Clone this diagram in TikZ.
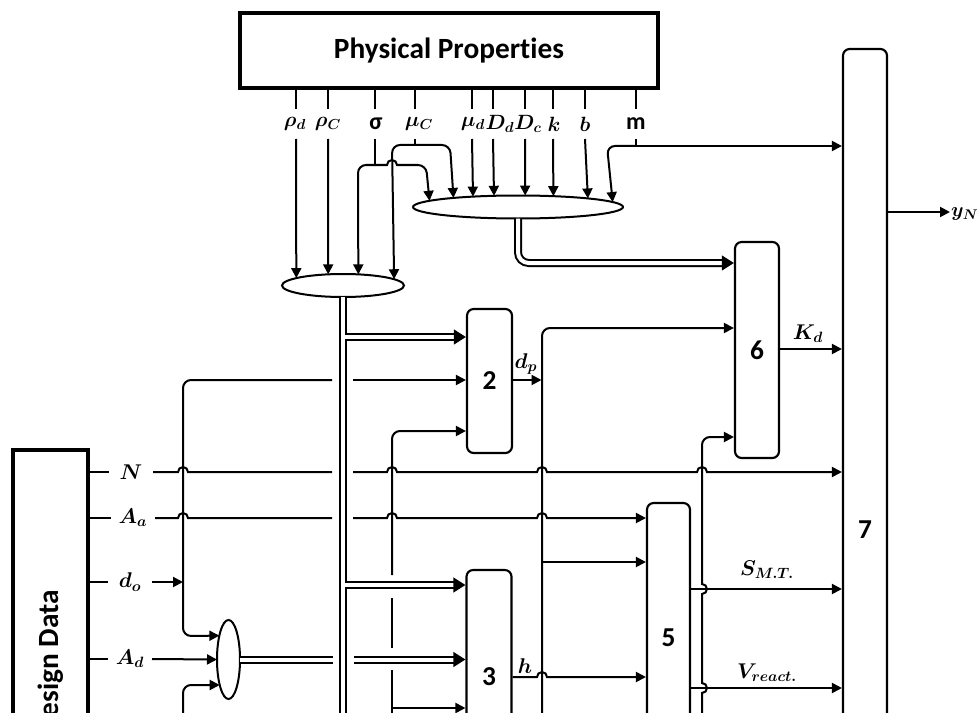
\RequirePackage{fix-cm}
\documentclass[tikz,border=0pt]{standalone}
\usepackage{fontspec}
\usepackage{amsmath}
\usepackage{bm}
\usetikzlibrary{arrows.meta,shapes.geometric}
\newfontfamily\carl[Ligatures={NoCommon}]{Carlito}
\newdimen\pxl \pxl=0.75pt
\begin{document}
\begin{tikzpicture}[x=0.75pt, y=0.75pt, line width=1.5pt,
  >={Triangle[length=7.5pt,width=7.5pt]},
  every node/.style={inner sep=0pt},
  blk/.style={draw, rounded corners=5pt, line width=1.6pt, minimum width=45\pxl, font=\carl\bfseries\fontsize{20.5}{24}\selectfont},
  ell/.style={ellipse, draw, line width=1.5pt, outer sep=0pt},
  dbl/.style={double=white, double distance=3pt, line width=1.5pt},
  dtip/.style={-{Triangle[length=9pt,width=11pt]}},
  lbl/.style={font=\fontsize{16}{19}\selectfont},
  plbl/.style={font=\fontsize{15.5}{18}\selectfont, minimum height=28\pxl},
  slbl/.style={font=\carl\bfseries\fontsize{18}{20}\selectfont, minimum height=28\pxl},
  dlbl/.style={lbl, minimum width=42\pxl},
  bigbox/.style={draw, line width=2.5pt, font=\carl\bfseries\fontsize{22}{26}\selectfont},
  rc/.style={rounded corners=6pt}
]
\useasboundingbox (0,0) rectangle (977,-713);
\clip (0,0) rectangle (977,-713);

% main boxes
\node[bigbox, minimum width=418\pxl, minimum height=75\pxl] (PP) at (449,-50.5) {Physical Properties};
\node[bigbox, minimum width=75\pxl, minimum height=426\pxl] (DD) at (50.5,-663) {\rotatebox{90}{Design Data}};

% blocks
\node[blk, minimum height=144\pxl] (B2) at (489.5,-381) {2};
\node[blk, minimum height=214\pxl] (B3) at (489,-677) {3};
\node[blk, minimum width=43\pxl, minimum height=270\pxl] (B5) at (668.5,-638) {5};
\node[blk, minimum width=44\pxl, minimum height=216\pxl] (B6) at (757,-350) {6};
\node[blk, minimum width=44\pxl, minimum height=962\pxl] (B7) at (865,-530) {7};

% ellipses
\node[ell, minimum width=210\pxl, minimum height=23\pxl] (A) at (518,-207) {};
\node[ell, minimum width=122\pxl, minimum height=23\pxl] (B) at (343,-285.5) {};
\node[ell, minimum width=23\pxl, minimum height=79\pxl] (C) at (228.5,-659.5) {};

% property labels
\node[plbl] (rd) at (295,-124) {$\bm{\rho_d}$};
\node[plbl] (rC) at (328,-124) {$\bm{\rho_C}$};
\node[slbl] (sg) at (376,-124) {σ};
\node[plbl] (mc) at (419,-124) {$\bm{\mu_C}$};
\node[plbl] (md) at (473,-124) {$\bm{\mu_d}$};
\node[plbl] (Dd) at (500,-124) {$\bm{D_d}$};
\node[plbl] (Dc) at (528,-124) {$\bm{D_c}$};
\node[plbl] (kk) at (554,-124) {$\bm{k}$};
\node[plbl] (bb) at (585,-124) {$\bm{b}$};
\node[slbl] (mm) at (636,-124) {m};

% design labels
\node[dlbl] (N) at (131,-472) {$\bm{N}$};
\node[dlbl] (Aa) at (133,-518) {$\bm{A_a}$};
\node[dlbl] (do) at (130,-582) {$\bm{d_o}$};
\node[dlbl] (Ad) at (130,-659) {$\bm{A_d}$};

% other labels
\node[lbl] (dp) at (526,-364) {$\bm{d_p}$};
\node[lbl] (hh) at (525,-666) {$\bm{h}$};
\node[lbl] (Kd) at (808,-334) {$\bm{K_d}$};
\node[lbl] (SMT) at (767,-570) {$\bm{S_{M.T.}}$};
\node[lbl] (Vr) at (767,-673) {$\bm{V_{react.}}$};
\node[font=\fontsize{15}{18}\selectfont, anchor=west] (yN) at (950,-214) {$\bm{y_N}$};

% junction coordinates
\coordinate (jsg) at (375,-165);
\coordinate (jmc) at (415,-145);
\coordinate (jm) at (636,-146);
\coordinate (jdo) at (183,-582);

% property stubs
\foreach \lab/\xx in {rd/296, rC/328, sg/375, md/472, Dd/493, Dc/525, kk/553, bb/585, mm/636}
  \draw (PP.south -| \xx,0) -- (\lab.north -| \xx,0);
\draw (PP.south -| 415,0) -- (mc.north -| 415,0);

% properties to ellipses
\draw[->] (rd.south -| 296,0) -- (B.171.1);
\draw[->] (rC.south -| 328,0) -- (B.143.4);
\draw[->] (md.south -| 472,0) -- (A.167.33);
\draw[->] (Dd.south -| 493,0) -- (A.155.93);
\draw[->] (Dc.south -| 525,0) -- (A.58.6);
\draw[->] (kk.south -| 553,0) -- (A.17.21);
\draw[->] (bb.south -| 585,0) -- (A.7.52);

% sigma
\draw (sg.south -| jsg) -- (jsg);
\draw[->, rc] (jsg) -- (358,-165) -- (B.36.6);
\draw[->] (jsg) -- (387,-165) arc[start angle=180, end angle=0, radius=3.75pt] [rc] -- (426,-165) -- (A.176.55);
% mu_C
\draw (mc.south -| jmc) -- (jmc);
\draw[->, rc] (jmc) -- (392,-145) -- (B.7.96);
\draw[->, rc] (jmc) -- (450,-145) -- (A.172.66);
% m
\draw (mm.south) -- (jm);
\draw[->] (jm) -- (B7.west |- jm);
\draw[->, rc] (jm) -- (607,-146) -- (A.3.92);

% ellipse A output
\draw[dbl, dtip, rounded corners=8pt] (A.south) -- (518,-263) -- (B6.west |- 0,-263);

% ellipse B output (double bus)
\draw[dbl] (B.south) -- (343,-725);
\draw[dbl, dtip] (343,-337) -- (B2.west |- 0,-337);
\draw[dbl, dtip] (343,-585) -- (B3.west |- 0,-585);
\draw[white, line width=3pt] (343,-329) -- (343,-345);
\draw[white, line width=3pt] (343,-577) -- (343,-593);

% design data stubs
\draw (DD.east |- N) -- (N.west);
\draw (DD.east |- Aa) -- (Aa.west);
\draw (DD.east |- do) -- (do.west);
\draw (DD.east |- Ad) -- (Ad.west);

% N line
\draw (N.east) -- (178,-472) arc[start angle=180, end angle=0, radius=3.75pt] -- (332,-472);
\draw[->] (353,-472) -- (387,-472) arc[start angle=180, end angle=0, radius=3.75pt]
  -- (537,-472) arc[start angle=180, end angle=0, radius=3.75pt]
  -- (697,-472) arc[start angle=180, end angle=0, radius=3.75pt] -- (B7.west |- N);
% A_a line
\draw (Aa.east) -- (178,-518) arc[start angle=180, end angle=0, radius=3.75pt] -- (332,-518);
\draw[->] (353,-518) -- (387,-518) arc[start angle=180, end angle=0, radius=3.75pt]
  -- (537,-518) arc[start angle=180, end angle=0, radius=3.75pt] -- (B5.west |- Aa);
% d_o
\draw[->] (do.east) -- (jdo);
\draw[rc] (jdo) -- (183,-380) -- (332,-380);
\draw[->] (353,-380) -- (B2.west |- 0,-380);
\draw[->, rc] (jdo) -- (183,-636) -- (C.111.5);
\draw[->, rc] (183,-725) -- (183,-685) -- (C.251);
% A_d
\draw[->] (Ad.east) -- (C.west);
% ellipse C output
\draw[dbl] (C.east) -- (333,-659.5);
\draw[dbl, dtip] (354,-659.5) -- (B3.west |- C.east);

% x=392 line
\draw[->, rc] (392,-575) -- (392,-431) -- (B2.west |- 0,-431);
\draw (392,-598) -- (392,-648);
\draw (392,-670) -- (392,-725);
\draw[->] (392,-708) -- (B3.west |- 0,-708);

% d_p
\draw[->] (B2.east |- 0,-380) -- (541.5,-380);
\draw[->, rc] (542,-725) -- (542,-328) -- (B6.west |- 0,-328);
\draw[->] (542,-562) -- (B5.west |- 0,-562);

% h
\draw[->] (B3.east |- 0,-677) -- (537,-677) arc[start angle=180, end angle=0, radius=3.75pt] -- (B5.west |- 0,-677);

% x=702 line to block 6
\draw[->] (702,-725) -- (702,-693) arc[start angle=-90, end angle=90, radius=3.75pt]
  -- (702,-594) arc[start angle=-90, end angle=90, radius=3.75pt] [rc] -- (702,-437) -- (B6.west |- 0,-437);

% block 5 outputs
\draw[->] (B5.east |- 0,-589) -- (B7.west |- 0,-589);
\draw[->] (B5.east |- 0,-688) -- (B7.west |- 0,-688);
% block 6 output
\draw[->] (B6.east |- 0,-349) -- (B7.west |- 0,-349);
% block 7 output
\draw[->] (B7.east |- 0,-212) -- (yN.west |- 0,-212);
\end{tikzpicture}
\end{document}
